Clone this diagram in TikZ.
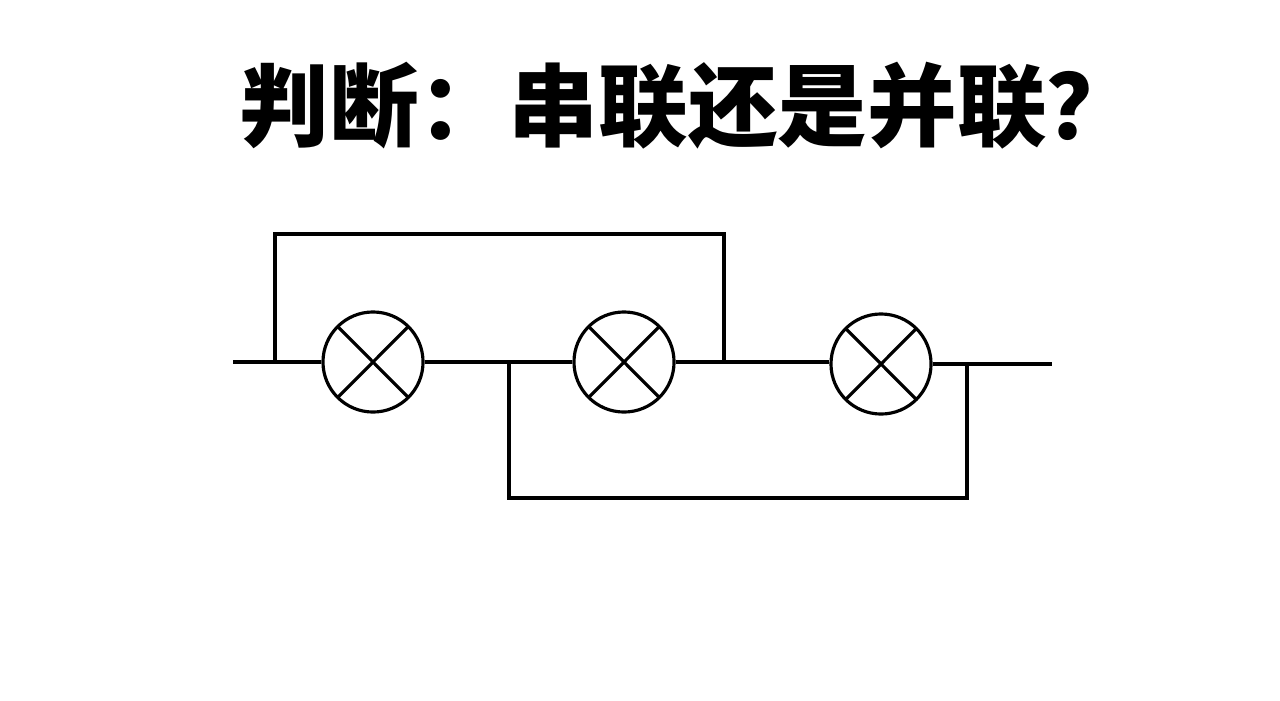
\documentclass[tikz,border=0pt]{standalone}
\usepackage{fontspec}
\newfontfamily\cjk{Noto Sans CJK SC}
\begin{document}
\begin{tikzpicture}[x=0.01cm,y=-0.01cm,line width=0.9pt,
  lamp/.style={circle,draw,minimum size=1cm,inner sep=0pt,line width=0.9pt,
    path picture={\draw[line width=0.9pt] (path picture bounding box.north west)+(0.15,-0.15) -- ([shift={(-0.15,0.15)}]path picture bounding box.south east);
      \draw[line width=0.9pt] ([shift={(0.15,0.15)}]path picture bounding box.south west) -- ([shift={(-0.15,-0.15)}]path picture bounding box.north east);}}]
\useasboundingbox (0,0) rectangle (1280,700);
\node (title) at (688,106) {\cjk\bfseries\fontsize{25.5}{30}\selectfont 判断：串联还是并联？};
\node[lamp] (l1) at (373,362) {};
\node[lamp] (l2) at (624,362) {};
\node[lamp] (l3) at (881,364) {};
\coordinate (a) at (233,362);
\coordinate (t1) at (275,362);
\coordinate (t2) at (724,362);
\coordinate (b1) at (509,362);
\coordinate (b2) at (967,364);
\coordinate (z) at (1052,364);
\draw (a) -- (l1.west);
\draw (l1.east) -- (l2.west);
\draw (l2.east) -- (l2.east -| l3.west);
\draw (l3.east) -- (z);
\draw (t1) -- (275,234) -- (724,234) -- (t2);
\draw (b1) -- (509,498) -- (967,498) -- (b2);
\end{tikzpicture}
\end{document}
